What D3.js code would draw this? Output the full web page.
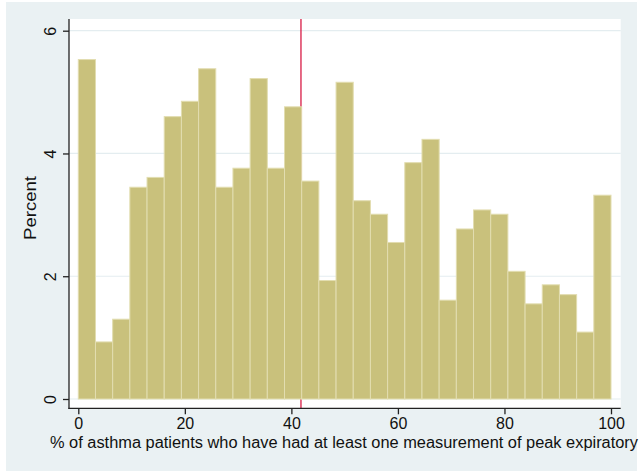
<!DOCTYPE html>
<html><head><meta charset="utf-8">
<script src="https://cdn.jsdelivr.net/npm/d3@7"></script>
<style>body{margin:0;background:#fff;}svg{display:block;}</style>
</head><body>
<script>
// Data
const binCount = 31;
const percents = [5.53, 0.93, 1.30, 3.45, 3.61, 4.60, 4.85, 5.38, 3.45, 3.76, 5.22, 3.76, 4.76, 3.55, 1.93, 5.16, 3.23, 3.01, 2.55, 3.85, 4.23, 1.61, 2.77, 3.08, 3.01, 2.08, 1.55, 1.86, 1.70, 1.09, 3.32];
const xTicks = [0, 20, 40, 60, 80, 100];
const yTicks = [0, 2, 4, 6];
const refLine = [41.8];
const xTitle = "% of asthma patients who have had at least one measurement of peak expiratory";
const yTitle = "Percent";

const W = 639, H = 471;
const svg = d3.select("body").append("svg").attr("width", W).attr("height", H);
const font = "'Liberation Sans', Arial, sans-serif";

// outer background
svg.append("rect").attr("x", 6).attr("y", 2).attr("width", 631).attr("height", 469).attr("fill", "#eaf1f3");
// plot region
const pl = 69, pr = 620.7, pt = 19, pb = 408.3;
svg.append("rect").attr("x", pl).attr("y", pt).attr("width", pr - pl).attr("height", pb - pt).attr("fill", "#fff");

const x = d3.scaleLinear().domain([0, 100]).range([78.3, 611]);
const y = d3.scaleLinear().domain([0, 6]).range([399, 30.7]);
const bw = 100 / binCount;

// gridlines
svg.append("g").selectAll("line").data(yTicks).join("line")
  .attr("x1", pl).attr("x2", pr).attr("y1", d => y(d)).attr("y2", d => y(d))
  .attr("stroke", "#e4edf0").attr("stroke-width", 1.2);

// reference line
svg.append("g").selectAll("line").data(refLine).join("line")
  .attr("x1", d => x(d)).attr("x2", d => x(d)).attr("y1", pt).attr("y2", pb)
  .attr("stroke", "#d81b45").attr("stroke-width", 1.3);

// bars
svg.append("g").selectAll("rect").data(percents).join("rect")
  .attr("x", (d, i) => x(i * bw))
  .attr("width", (d, i) => x((i + 1) * bw) - x(i * bw))
  .attr("y", d => y(d))
  .attr("height", d => y(0) - y(d))
  .attr("fill", "#c9c17c")
  .attr("stroke", "#e2ddb0").attr("stroke-width", 1);

// axes
const axisColor = "#222";
const xAxis = svg.append("g").attr("transform", `translate(0,${pb})`)
  .call(d3.axisBottom(x).tickValues(xTicks).tickSize(6).tickPadding(3).tickFormat(d3.format("d")));
xAxis.select(".domain").remove();
xAxis.selectAll(".tick line").attr("stroke", axisColor).attr("stroke-width", 1.3);
xAxis.selectAll(".tick text").attr("font-family", font).attr("font-size", 16).attr("fill", "#111");

const yAxis = svg.append("g").attr("transform", `translate(${pl},0)`)
  .call(d3.axisLeft(y).tickValues(yTicks).tickSize(6).tickPadding(0).tickFormat(d3.format("d")));
yAxis.select(".domain").remove();
yAxis.selectAll(".tick line").attr("stroke", axisColor).attr("stroke-width", 1.3);
yAxis.selectAll(".tick text")
  .attr("font-family", font).attr("font-size", 16).attr("fill", "#111")
  .attr("x", null).attr("dy", null)
  .attr("text-anchor", "middle")
  .attr("transform", "translate(-13,0) rotate(-90)");

svg.append("line").attr("x1", pl).attr("x2", pl).attr("y1", pt).attr("y2", pb + 0.6)
  .attr("stroke", axisColor).attr("stroke-width", 1.3);
svg.append("line").attr("x1", pl - 0.6).attr("x2", pr).attr("y1", pb).attr("y2", pb)
  .attr("stroke", axisColor).attr("stroke-width", 1.3);

// titles
svg.append("text").attr("x", 50).attr("y", 448).attr("font-family", font).attr("font-size", 16)
  .attr("textLength", 588).attr("lengthAdjust", "spacingAndGlyphs")
  .attr("fill", "#111").text(xTitle);
svg.append("text").attr("transform", "translate(36,208) rotate(-90)").attr("text-anchor", "middle")
  .attr("font-family", font).attr("font-size", 16).attr("fill", "#111")
  .attr("textLength", 64).attr("lengthAdjust", "spacingAndGlyphs").text(yTitle);
</script>
</body></html>
